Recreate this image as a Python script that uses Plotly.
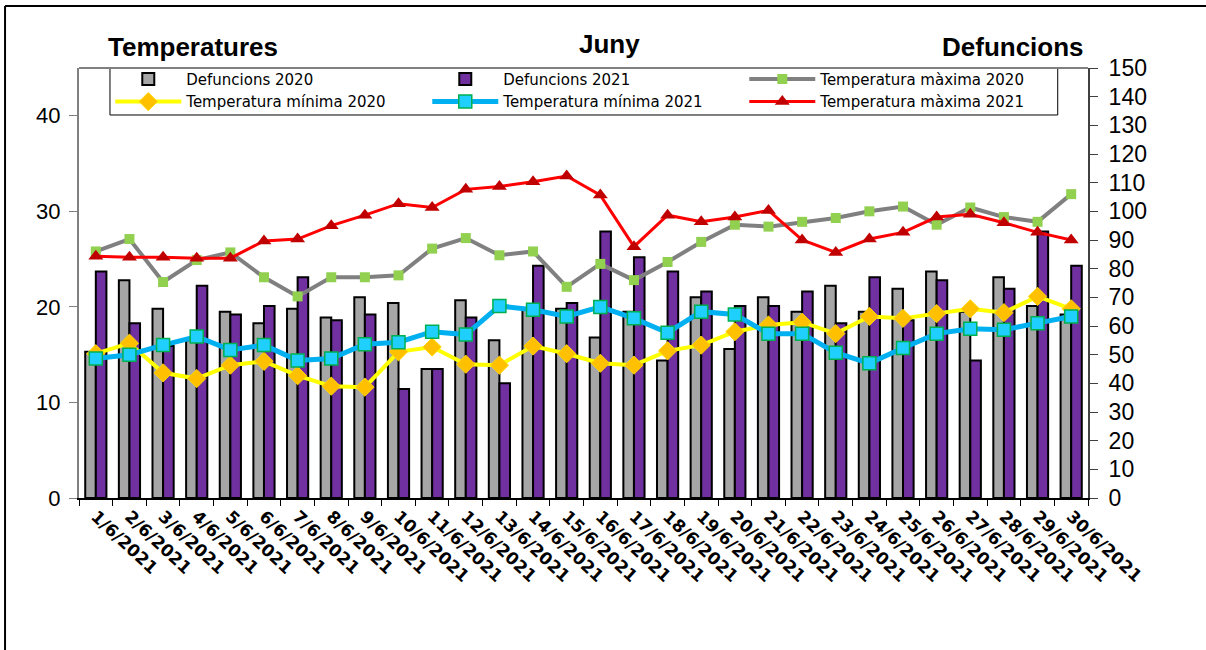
import plotly.graph_objects as go

# June 2021 daily data
dates = [f"{d}/6/2021" for d in range(1, 31)]

defuncions_2020 = [51, 76, 66, 55, 65, 61, 66, 63, 70, 68, 45, 69, 55, 66, 66,
                   56, 65, 48, 70, 52, 70, 65, 74, 65, 73, 79, 65, 77, 67, 64]
defuncions_2021 = [79, 61, 53, 74, 64, 67, 77, 62, 64, 38, 45, 63, 40, 81, 68,
                   93, 84, 79, 72, 67, 67, 72, 61, 77, 62, 76, 48, 73, 93, 81]

tmax_2020 = [25.8, 27.1, 22.6, 24.9, 25.7, 23.1, 21.1, 23.1, 23.1, 23.3, 26.1, 27.2, 25.4, 25.8, 22.1,
             24.5, 22.8, 24.7, 26.8, 28.6, 28.4, 28.9, 29.3, 30.0, 30.5, 28.6, 30.4, 29.4, 28.9, 31.8]
tmax_2021 = [25.3, 25.2, 25.2, 25.1, 25.1, 26.9, 27.1, 28.5, 29.6, 30.8, 30.4, 32.3, 32.6, 33.1, 33.7,
             31.7, 26.3, 29.6, 28.9, 29.4, 30.1, 27.0, 25.7, 27.1, 27.8, 29.4, 29.7, 28.8, 27.8, 27.0]
tmin_2020 = [15.1, 16.2, 13.1, 12.5, 13.9, 14.3, 12.8, 11.7, 11.6, 15.3, 15.8, 14.0, 13.9, 15.9, 15.1,
             14.1, 13.9, 15.4, 16.0, 17.4, 18.1, 18.4, 17.2, 19.0, 18.8, 19.3, 19.8, 19.4, 21.1, 19.8]
tmin_2021 = [14.6, 15.0, 16.0, 16.9, 15.5, 16.0, 14.4, 14.6, 16.1, 16.3, 17.4, 17.1, 20.1, 19.7, 19.0,
             20.0, 18.8, 17.3, 19.5, 19.2, 17.2, 17.2, 15.2, 14.1, 15.7, 17.2, 17.7, 17.6, 18.3, 19.0]

FONT = "Liberation Sans, Arial, sans-serif"
WIDE = "DejaVu Sans, sans-serif"   # wider glyphs, closer to the stretched Excel text

fig = go.Figure()

# bars on the primary axis (drawn right side), lines on the overlaying one so they sit on top
fig.add_trace(go.Bar(x=dates, y=defuncions_2020, name="Defuncions 2020",
                     marker=dict(color="#A6A6A6", line=dict(color="black", width=2)),
                     yaxis="y"))
fig.add_trace(go.Bar(x=dates, y=defuncions_2021, name="Defuncions 2021",
                     marker=dict(color="#7030A0", line=dict(color="black", width=2)),
                     yaxis="y"))
fig.add_trace(go.Scatter(x=dates, y=tmax_2020, name="Temperatura màxima 2020", mode="lines+markers",
                         line=dict(color="#808080", width=4),
                         marker=dict(symbol="square", size=10, color="#92D050"),
                         yaxis="y2"))
fig.add_trace(go.Scatter(x=dates, y=tmin_2020, name="Temperatura mínima 2020", mode="lines+markers",
                         line=dict(color="#FFFF00", width=4),
                         marker=dict(symbol="diamond", size=14, color="#FFC000",
                                     line=dict(color="#FFD700", width=1)),
                         yaxis="y2"))
fig.add_trace(go.Scatter(x=dates, y=tmin_2021, name="Temperatura mínima 2021", mode="lines+markers",
                         line=dict(color="#00B0F0", width=5),
                         marker=dict(symbol="square", size=13, color="#1FD0FF",
                                     line=dict(color="#00B050", width=1.5)),
                         yaxis="y2"))
fig.add_trace(go.Scatter(x=dates, y=tmax_2021, name="Temperatura màxima 2021", mode="lines+markers",
                         line=dict(color="#FF0000", width=3),
                         marker=dict(symbol="triangle-up", size=13, color="#C00000"),
                         yaxis="y2"))

shapes = [
    # outer frame (left + top)
    dict(type="line", xref="paper", yref="paper", x0=-0.0733, x1=-0.0733, y0=1.144, y1=-0.36,
         line=dict(color="black", width=2)),
    dict(type="line", xref="paper", yref="paper", x0=-0.0733, x1=1.12, y0=1.144, y1=1.144,
         line=dict(color="black", width=2)),
    # top edge of plot area
    dict(type="line", xref="paper", yref="paper", x0=0, x1=1, y0=1, y1=1,
         line=dict(color="#808080", width=2)),
    # legend box (drawn separately so it can be tighter than plotly's own)
    dict(type="rect", xref="paper", yref="paper", x0=0.0307, x1=0.970, y0=0.8907, y1=1,
         fillcolor="white", line=dict(color="black", width=1), layer="below"),
]

annotations = [
    dict(text="<b>Temperatures</b>", x=0.113, y=1.048),
    dict(text="<b>Juny</b>", x=0.526, y=1.055),
    dict(text="<b>Defuncions</b>", x=0.926, y=1.048),
]
for a in annotations:
    a.update(xref="paper", yref="paper", showarrow=False, xanchor="center", yanchor="middle",
             font=dict(family=FONT, size=26, color="black"))

fig.update_layout(
    width=1206, height=650,
    paper_bgcolor="white", plot_bgcolor="white",
    margin=dict(l=79, r=118, t=68, b=152, autoexpand=False),
    barmode="group", bargap=0.37, bargroupgap=0,
    font=dict(family=FONT, color="black"),
    showlegend=True,
    legend=dict(orientation="h", x=0.031, y=1.012, xanchor="left", yanchor="top",
                bgcolor="rgba(0,0,0,0)", borderwidth=0,
                entrywidth=236, entrywidthmode="pixels",
                font=dict(family=WIDE, size=15, color="black"),
                traceorder="normal", itemwidth=66, tracegroupgap=0),
    xaxis=dict(type="category", range=[-0.5, 29.5], automargin=False,
               showgrid=False, showline=True, linecolor="black", linewidth=2,
               ticks="outside", tickson="boundaries", ticklen=6, tickcolor="black",
               tickangle=43, tickfont=dict(family=WIDE, size=17, color="black", weight="bold")),
    yaxis=dict(side="right", range=[0, 150], dtick=10, automargin=False,
               showgrid=False, zeroline=False,
               showline=True, linecolor="#404040", linewidth=2,
               ticks="outside", ticklen=8, tickcolor="#404040", ticklabelstandoff=6,
               tickfont=dict(family=FONT, size=23, color="black")),
    yaxis2=dict(overlaying="y", side="left", range=[0, 45], tickvals=[0, 10, 20, 30, 40],
                automargin=False, showgrid=False, zeroline=False,
                showline=True, linecolor="#808080", linewidth=2,
                ticks="outside", ticklen=8, tickcolor="#808080", ticklabelstandoff=4,
                tickfont=dict(family=FONT, size=22, color="black")),
    shapes=shapes,
    annotations=annotations,
)

# drop the default page margin so the figure sits at the window origin
fig.write_html("out.html", config={"displayModeBar": False},
               post_script="document.body.style.margin='0';")
